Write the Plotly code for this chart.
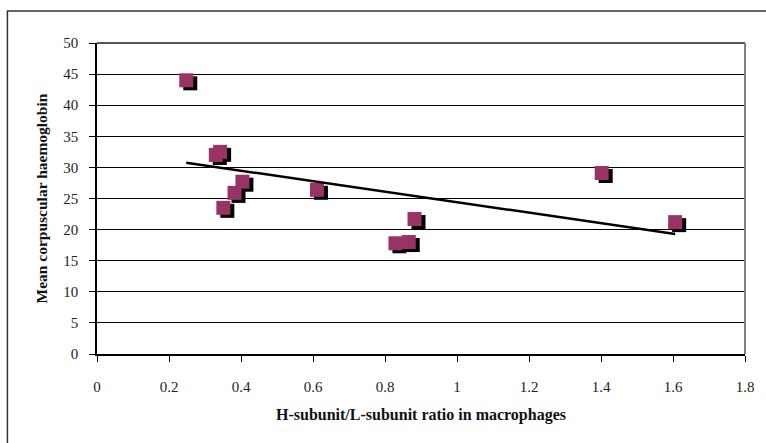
import plotly.graph_objects as go

# Data
ratio_x = [0.248, 0.330, 0.342, 0.404, 0.382, 0.351, 0.611, 0.882, 0.829, 0.866, 1.402, 1.606]
mch_y = [44.0, 32.0, 32.5, 27.7, 25.9, 23.5, 26.4, 21.7, 17.8, 18.0, 29.1, 21.2]
trend_x = [0.248, 1.606]
trend_y = [30.75, 19.3]

x_ticks = [0, 0.2, 0.4, 0.6, 0.8, 1, 1.2, 1.4, 1.6, 1.8]
x_tick_text = ["0", "0.2", "0.4", "0.6", "0.8", "1", "1.2", "1.4", "1.6", "1.8"]
y_ticks = [0, 5, 10, 15, 20, 25, 30, 35, 40, 45, 50]

X_RANGE = [0, 1.8]
Y_RANGE = [0, 50]

# layout geometry
W, H = 766, 443
ML, MR, MT, MB = 97, 18, 43, 89
plot_w = W - ML - MR
plot_h = H - MT - MB
SHADOW_DX, SHADOW_DY = 4, 3  # px

x_per_px = (X_RANGE[1] - X_RANGE[0]) / plot_w
y_per_px = (Y_RANGE[1] - Y_RANGE[0]) / plot_h

FONT = "Liberation Serif"
PURPLE = "#993366"

fig = go.Figure()

# shadow squares on hidden base axes (shifted ranges -> pixel offset)
fig.add_trace(go.Scatter(
    x=ratio_x, y=mch_y, mode="markers", xaxis="x", yaxis="y",
    marker=dict(symbol="square", size=14, color="black", line=dict(width=0)),
    hoverinfo="skip", showlegend=False))

# real markers + trendline on visible axes
fig.add_trace(go.Scatter(
    x=ratio_x, y=mch_y, mode="markers", xaxis="x2", yaxis="y2",
    marker=dict(symbol="square", size=14, color=PURPLE, line=dict(width=0)),
    showlegend=False))
fig.add_trace(go.Scatter(
    x=trend_x, y=trend_y, mode="lines", xaxis="x2", yaxis="y2",
    line=dict(color="black", width=2.5), showlegend=False))

fig.update_layout(
    width=W, height=H,
    margin=dict(l=ML, r=MR, t=MT, b=MB),
    paper_bgcolor="white", plot_bgcolor="white",
    font=dict(family=FONT, color="#222222"),
    xaxis=dict(range=[X_RANGE[0] - SHADOW_DX * x_per_px, X_RANGE[1] - SHADOW_DX * x_per_px],
               visible=False, showgrid=False, zeroline=False),
    yaxis=dict(range=[Y_RANGE[0] + SHADOW_DY * y_per_px, Y_RANGE[1] + SHADOW_DY * y_per_px],
               visible=False, showgrid=False, zeroline=False),
    xaxis2=dict(overlaying="x", anchor="y2", side="bottom", range=X_RANGE,
                tickvals=x_ticks, ticktext=x_tick_text,
                showgrid=False, zeroline=False,
                showline=True, linecolor="black", linewidth=1.5,
                ticks="outside", ticklen=6, tickcolor="black", tickwidth=1,
                ticklabelstandoff=12,
                tickfont=dict(family=FONT, size=15, color="#222222"),
                title=dict(text="<b>H-subunit/L-subunit ratio in macrophages</b>",
                           font=dict(family=FONT, size=16, color="#111111"),
                           standoff=15)),
    yaxis2=dict(overlaying="y", anchor="x2", side="left", range=Y_RANGE,
                tickvals=y_ticks,
                showgrid=True, gridcolor="black", gridwidth=1,
                zeroline=False,
                showline=True, linecolor="black", linewidth=1.5,
                ticks="outside", ticklen=6, tickcolor="black", tickwidth=1,
                ticklabelstandoff=8,
                tickfont=dict(family=FONT, size=15, color="#222222"),
                title=dict(text="<b>Mean corpuscular haemoglobin</b>",
                           font=dict(family=FONT, size=15.5, color="#111111"),
                           standoff=12)),
    shapes=[
        # plot-area border (top + right)
        dict(type="line", xref="paper", yref="paper", x0=0, x1=1, y0=1, y1=1,
             line=dict(color="#555555", width=2)),
        dict(type="line", xref="paper", yref="paper", x0=1, x1=1, y0=0, y1=1,
             line=dict(color="#808080", width=2)),
        # outer chart border (clipped at right/bottom in the reference)
        dict(type="rect", xref="paper", yref="paper",
             x0=(7 - ML) / plot_w, x1=(W + 5 - ML) / plot_w,
             y0=1 - (H + 5 - MT) / plot_h, y1=1 - (11 - MT) / plot_h,
             line=dict(color="#333333", width=1.5), layer="below"),
    ],
)

fig.write_html("out.html", config={"displayModeBar": False},
               post_script="document.body.style.margin='0';")
